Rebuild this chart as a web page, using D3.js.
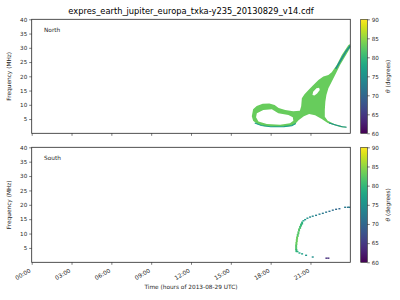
<!DOCTYPE html>
<html>
<head>
<meta charset="utf-8">
<script src="https://cdn.jsdelivr.net/npm/d3@7"></script>
<style>
  body { margin: 0; background: #fff; }
  svg { display: block; font-family: "DejaVu Sans", sans-serif; }
</style>
</head>
<body>
<svg id="chart" width="400" height="300"></svg>
<script>
// ---- data (time in hours, frequency in MHz, theta in degrees) ----
var hourTicks = [0, 3, 6, 9, 12, 15, 18, 21];
var hourLabels = ["00:00", "03:00", "06:00", "09:00", "12:00", "15:00", "18:00", "21:00"];
var freqTicks = [5, 10, 15, 20, 25, 30, 35, 40];
var thetaTicks = [60, 65, 70, 75, 80, 85, 90];

// North hemisphere emission: outline of the lit region and its holes
var northBody = [
  [16.58, 6.0], [16.68, 8.4], [16.95, 9.6], [17.4, 10.4], [17.9, 10.5], [18.3, 9.9],
  [18.6, 8.9], [19.1, 8.2], [19.7, 7.7], [20.2, 7.9], [20.3, 9.5], [20.35, 12.3],
  [20.55, 13.7], [20.85, 15.2], [21.2, 16.9], [21.6, 18.7], [21.97, 19.9], [22.35, 20.5],
  [22.6, 21.4], [22.98, 24.0], [23.36, 27.5], [23.86, 31.0], [24.0, 31.3], [24.0, 30.0],
  [23.6, 26.9], [23.23, 24.0], [22.98, 21.6], [22.8, 19.9], [22.6, 18.1], [22.35, 15.8],
  [22.2, 13.4], [22.12, 11.1], [22.08, 8.2], [22.08, 5.8], [22.3, 4.4], [22.8, 3.3],
  [23.4, 2.5], [23.7, 2.3], [23.7, 2.0], [23.3, 2.1], [22.8, 2.8], [22.3, 3.6],
  [21.85, 5.0], [21.35, 6.3], [20.9, 6.8], [20.5, 6.0], [20.1, 4.6], [19.85, 3.3],
  [19.5, 2.6], [19.0, 2.3], [18.3, 2.2], [17.5, 2.5], [17.0, 3.2], [16.68, 4.4]
];
var northLoopHole = [
  [16.96, 7.0], [17.45, 8.2], [18.09, 8.4], [18.58, 7.0], [19.34, 6.4], [19.67, 5.6],
  [19.71, 4.4], [19.46, 3.5], [18.71, 3.0], [17.71, 3.3], [17.08, 4.1], [16.9, 5.6]
];
var northSmallHole = [
  [21.15, 13.4], [21.2, 14.6], [21.45, 15.8], [21.65, 16.0], [21.7, 15.2], [21.5, 14.0], [21.3, 13.3]
];
var northBodyTheta = 83;

// teal edges of the north emission
var northRise = [[22.9, 22.6], [23.3, 25.8], [23.7, 28.9], [24.0, 30.7]];
var northTail = [[22.4, 3.6], [22.9, 2.9], [23.4, 2.3], [23.72, 2.15]];
var northLoopEdge = [[16.8, 3.6], [17.3, 2.75], [18.0, 2.3], [19.0, 2.35], [19.6, 2.7], [19.9, 3.4]];
var northEdgeTheta = [75, 75, 77];

// South hemisphere emission: individual cells
var southTime = [23.94, 23.82, 23.61, 23.18, 22.93, 22.68, 22.43, 22.18, 21.93, 21.68, 21.42, 21.17,
  20.97, 20.77, 20.6, 20.47, 20.37, 20.29, 20.22, 20.14, 20.09, 20.04, 19.99, 19.97, 19.94,
  19.92, 19.92, 19.94, 20.02, 20.17, 20.37, 20.67, 21.17, 22.2, 22.35];
var southFreq = [19.1, 19.1, 19.1, 18.6, 18.4, 18.1, 17.7, 17.4, 17.0, 16.7, 16.3, 16.0,
  15.7, 15.3, 14.8, 14.4, 13.9, 13.2, 12.4, 11.5, 10.5, 9.6, 8.7, 7.8, 6.8,
  5.9, 5.0, 4.3, 3.7, 3.2, 2.9, 2.4, 1.8, 1.4, 1.4];
var southTheta = [72, 72, 72, 70, 70, 71, 71, 72, 72, 73, 73, 74,
  74, 75, 76, 77, 79, 80, 81, 82, 82, 82, 83, 83, 83,
  82, 82, 80, 79, 78, 77, 76, 75, 64, 64];

// ---- layout ----
var svg = d3.select("#chart");
var axLeft = 31.7, axRight = 350.3;
var panels = [
  { top: 19.3, bottom: 133.3, name: "North", labels: false },
  { top: 147.3, bottom: 262.3, name: "South", labels: true }
];
var cbLeft = 360.7, cbRight = 367.3;
var ink = "#262626";

var x = d3.scaleLinear().domain([0, 24]).range([axLeft, axRight]);
var color = d3.scaleSequential(d3.interpolateViridis).domain([60, 90]);

// title
svg.append("text")
  .attr("x", (axLeft + axRight) / 2)
  .attr("y", 13.5)
  .attr("text-anchor", "middle")
  .style("font-size", "8.3px")
  .attr("fill", "#000")
  .text("expres_earth_jupiter_europa_txka-y235_20130829_v14.cdf");

// colorbar gradient
var defs = svg.append("defs");
var grad = defs.append("linearGradient")
  .attr("id", "viridis")
  .attr("x1", 0).attr("y1", 1).attr("x2", 0).attr("y2", 0);
d3.range(0, 1.0001, 0.05).forEach(function (t) {
  grad.append("stop").attr("offset", t).attr("stop-color", d3.interpolateViridis(t));
});

panels.forEach(function (p, i) {
  var y = d3.scaleLinear().domain([0, 40]).range([p.bottom, p.top]);
  var g = svg.append("g");

  var clipId = "clip" + i;
  defs.append("clipPath").attr("id", clipId)
    .append("rect")
    .attr("x", axLeft).attr("y", p.top)
    .attr("width", axRight - axLeft).attr("height", p.bottom - p.top);

  var plot = g.append("g").attr("clip-path", "url(#" + clipId + ")");
  var line = d3.line().x(function (d) { return x(d[0]); }).y(function (d) { return y(d[1]); });

  if (p.name === "North") {
    plot.append("path")
      .attr("d", line(northBody) + "Z" + line(northLoopHole) + "Z" + line(northSmallHole) + "Z")
      .attr("fill-rule", "evenodd")
      .attr("fill", color(northBodyTheta));
    [northRise, northTail, northLoopEdge].forEach(function (pts, k) {
      plot.append("path")
        .attr("d", line(pts))
        .attr("fill", "none")
        .attr("stroke", color(northEdgeTheta[k]))
        .attr("stroke-width", k === 0 ? 1.6 : 1.1);
    });
  } else {
    plot.selectAll(".cell")
      .data(southTime)
      .enter()
      .append("rect")
      .attr("class", "cell")
      .attr("x", function (d) { return x(d) - 1; })
      .attr("y", function (d, j) { return y(southFreq[j]) - 0.8; })
      .attr("width", 2)
      .attr("height", function (d, j) { return southFreq[j] > 4 && southFreq[j] < 14 ? 3 : 1.4; })
      .attr("fill", function (d, j) { return color(southTheta[j]); });
  }

  // axes frame
  g.append("rect")
    .attr("x", axLeft).attr("y", p.top)
    .attr("width", axRight - axLeft).attr("height", p.bottom - p.top)
    .attr("fill", "none").attr("stroke", ink).attr("stroke-width", 0.8);

  // y axis
  var yAxis = g.append("g")
    .attr("transform", "translate(" + axLeft + ",0)")
    .call(d3.axisLeft(y).tickValues(freqTicks).tickSize(2.5).tickPadding(2));
  yAxis.select(".domain").remove();
  yAxis.selectAll("line").attr("stroke", ink).attr("stroke-width", 0.6);
  yAxis.selectAll("text").style("font-size", "5.6px").attr("fill", ink).attr("font-family", "DejaVu Sans");

  // x axis
  var xAxis = g.append("g")
    .attr("transform", "translate(0," + p.bottom + ")")
    .call(d3.axisBottom(x).tickValues(hourTicks).tickSize(2.5)
      .tickFormat(function (d, j) { return p.labels ? hourLabels[j] : ""; }));
  xAxis.select(".domain").remove();
  xAxis.selectAll("line").attr("stroke", ink).attr("stroke-width", 0.6);
  xAxis.selectAll("text")
    .style("font-size", "5.8px")
    .attr("font-family", "DejaVu Sans")
    .attr("fill", ink)
    .style("text-anchor", "end")
    .attr("dy", null)
    .attr("y", 0)
    .attr("transform", "translate(-1,9.5) rotate(-30)");

  // y label
  g.append("text")
    .attr("transform", "translate(11," + (p.top + p.bottom) / 2 + ") rotate(-90)")
    .attr("text-anchor", "middle")
    .style("font-size", "5.8px")
    .attr("fill", ink)
    .text("Frequency (MHz)");

  // panel name
  g.append("text")
    .attr("x", 44).attr("y", p.top + 12.4)
    .style("font-size", "5.8px")
    .attr("fill", ink)
    .text(p.name);

  // colorbar
  var cy = d3.scaleLinear().domain([60, 90]).range([p.bottom, p.top]);
  g.append("rect")
    .attr("x", cbLeft).attr("y", p.top)
    .attr("width", cbRight - cbLeft).attr("height", p.bottom - p.top)
    .attr("fill", "url(#viridis)")
    .attr("stroke", ink).attr("stroke-width", 0.6);
  var cAxis = g.append("g")
    .attr("transform", "translate(" + cbRight + ",0)")
    .call(d3.axisRight(cy).tickValues(thetaTicks).tickSize(2.5).tickPadding(2));
  cAxis.select(".domain").remove();
  cAxis.selectAll("line").attr("stroke", ink).attr("stroke-width", 0.6);
  cAxis.selectAll("text").style("font-size", "5.6px").attr("fill", ink).attr("font-family", "DejaVu Sans");

  var lab = g.append("text")
    .attr("transform", "translate(390," + (p.top + p.bottom) / 2 + ") rotate(-90)")
    .attr("text-anchor", "middle")
    .style("font-size", "5.8px")
    .attr("fill", ink);
  lab.append("tspan").style("font-style", "italic").text("θ");
  lab.append("tspan").text(" (degrees)");
});

// x label
svg.append("text")
  .attr("x", (axLeft + axRight) / 2)
  .attr("y", 289)
  .attr("text-anchor", "middle")
  .style("font-size", "5.8px")
  .attr("fill", ink)
  .text("Time (hours of 2013-08-29 UTC)");
</script>
</body>
</html>
